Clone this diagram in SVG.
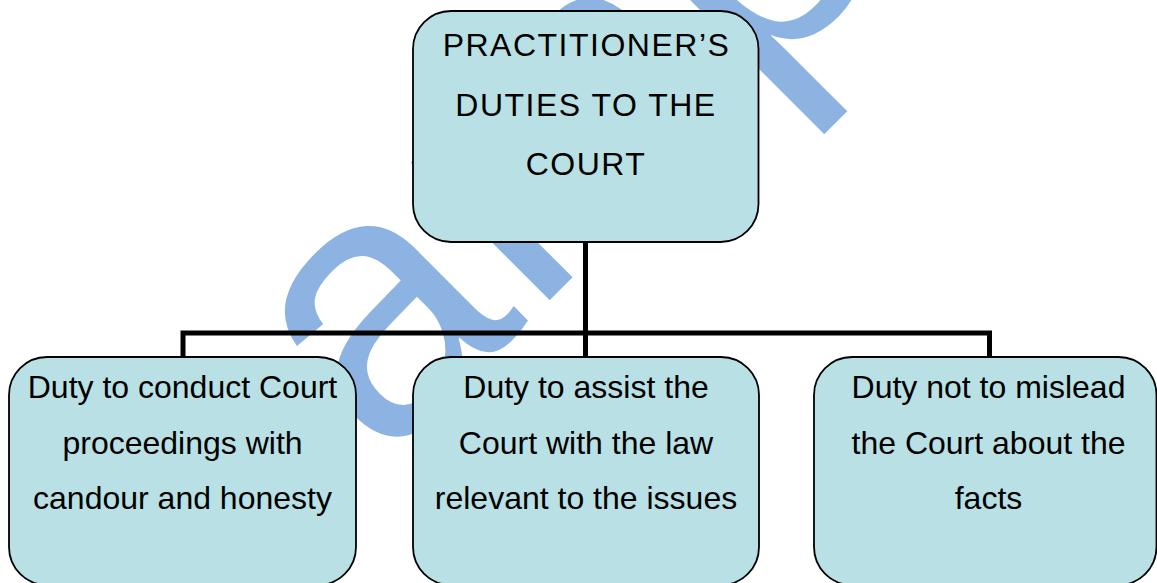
<svg xmlns="http://www.w3.org/2000/svg" width="1157" height="583" viewBox="0 0 1157 583">
  <style>
    .box { fill: #b9e0e4; stroke: #000; stroke-width: 1.8; }
    .lbl { font-family: "Liberation Sans", Arial, sans-serif; font-size: 32px; fill: #000; text-anchor: middle; }
    .top { letter-spacing: 1.5px; }
    .wm { font-family: "Liberation Sans", Arial, sans-serif; font-size: 370px; letter-spacing: 4px; fill: #8db3e2; }
    .conn { fill: none; stroke: #000; stroke-width: 5; stroke-linejoin: miter; stroke-linecap: butt; }
  </style>
  <rect x="0" y="0" width="1157" height="583" fill="#ffffff"/>
  <g id="watermark" transform="rotate(-45)">
    <text class="wm" x="-59" y="601">amp</text>
  </g>
  <g id="connectors">
    <path class="conn" d="M585.5 242 V358"/>
    <path class="conn" d="M183 358 V333 H989.5 V358"/>
  </g>
  <g id="node-root">
    <rect class="box" x="413" y="11" width="345.5" height="231" rx="38" ry="38"/>
    <text class="lbl top" x="586.5" y="56">PRACTITIONER’S</text>
    <text class="lbl top" x="586" y="115.5">DUTIES TO THE</text>
    <text class="lbl top" x="586" y="175">COURT</text>
  </g>
  <g id="node-candour">
    <rect class="box" x="9" y="357" width="347" height="228" rx="38" ry="38"/>
    <text class="lbl" x="182.5" y="398">Duty to conduct Court</text>
    <text class="lbl" x="182.5" y="453.5">proceedings with</text>
    <text class="lbl" x="182.5" y="509">candour and honesty</text>
  </g>
  <g id="node-law">
    <rect class="box" x="413" y="357" width="346" height="228" rx="38" ry="38"/>
    <text class="lbl" x="586" y="398">Duty to assist the</text>
    <text class="lbl" x="586" y="453.5">Court with the law</text>
    <text class="lbl" x="586" y="509">relevant to the issues</text>
  </g>
  <g id="node-facts">
    <rect class="box" x="814" y="357" width="342.5" height="228" rx="38" ry="38"/>
    <text class="lbl" x="988.5" y="398">Duty not to mislead</text>
    <text class="lbl" x="988.5" y="453.5">the Court about the</text>
    <text class="lbl" x="988.5" y="509">facts</text>
  </g>
</svg>
